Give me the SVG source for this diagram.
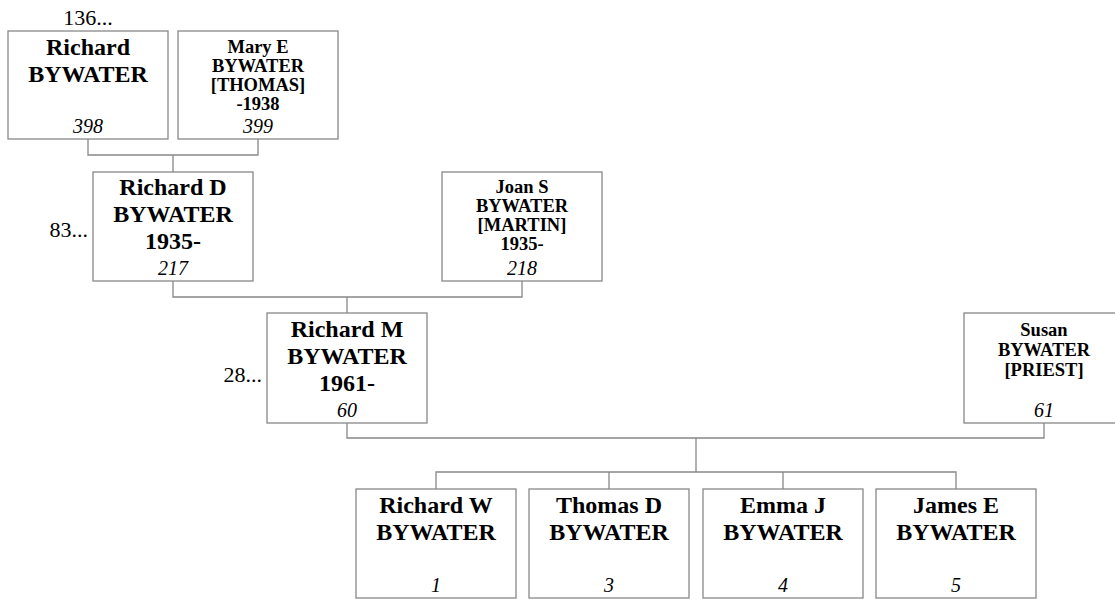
<svg xmlns="http://www.w3.org/2000/svg" width="1115" height="599" viewBox="0 0 1115 599" font-family="'Liberation Serif', Tinos, 'Times New Roman', 'DejaVu Serif', serif">
<style>
rect.b{fill:#fff;stroke:#888;stroke-width:1.3}
.c path{fill:none;stroke:#888;stroke-width:1.3}
text{font-family:'Liberation Serif',Tinos,'Times New Roman','DejaVu Serif',serif;fill:#000;text-anchor:middle}
.n{font-weight:bold;font-size:24px}
.s{font-weight:bold;font-size:18.5px}
.i{font-style:italic;font-size:20px}
.l{font-size:22px}
</style>
<rect width="1115" height="599" fill="#fff"/>
<g class="c" id="connectors">
<path d="M88,139V155H258V139M173,155V172"/>
<path d="M173,281V297H522V281M347,297V313"/>
<path d="M347,423V438H1044V423M696,438V472"/>
<path d="M436,489V472H956V489M609,472V489M783,472V489"/>
</g>
<g id="n398">
<rect class="b" x="8" y="31" width="160" height="108"/>
<text class="n" x="88" y="55">Richard</text>
<text class="n" x="88" y="82">BYWATER</text>
<text class="i" x="88" y="133">398</text>
<text class="l" x="88" y="25">136...</text>
</g>
<g id="n399">
<rect class="b" x="178" y="31" width="160" height="108"/>
<text class="s" x="258" y="53">Mary E</text>
<text class="s" x="258" y="72">BYWATER</text>
<text class="s" x="258" y="91">[THOMAS]</text>
<text class="s" x="258" y="110">-1938</text>
<text class="i" x="258" y="133">399</text>
</g>
<g id="n217">
<rect class="b" x="93" y="172" width="160" height="109"/>
<text class="n" x="173" y="195">Richard D</text>
<text class="n" x="173" y="222">BYWATER</text>
<text class="n" x="173" y="249">1935-</text>
<text class="i" x="173" y="275">217</text>
<text class="l" x="88" y="237" style="text-anchor:end">83...</text>
</g>
<g id="n218">
<rect class="b" x="442" y="172" width="160" height="109"/>
<text class="s" x="522" y="193">Joan S</text>
<text class="s" x="522" y="212">BYWATER</text>
<text class="s" x="522" y="231">[MARTIN]</text>
<text class="s" x="522" y="250">1935-</text>
<text class="i" x="522" y="275">218</text>
</g>
<g id="n60">
<rect class="b" x="267" y="313" width="160" height="110"/>
<text class="n" x="347" y="337">Richard M</text>
<text class="n" x="347" y="364">BYWATER</text>
<text class="n" x="347" y="391">1961-</text>
<text class="i" x="347" y="417">60</text>
<text class="l" x="262" y="382" style="text-anchor:end">28...</text>
</g>
<g id="n61">
<rect class="b" x="964" y="313" width="160" height="110"/>
<text class="s" x="1044" y="336">Susan</text>
<text class="s" x="1044" y="356">BYWATER</text>
<text class="s" x="1044" y="376">[PRIEST]</text>
<text class="i" x="1044" y="417">61</text>
</g>
<g id="n1">
<rect class="b" x="356" y="489" width="160" height="109"/>
<text class="n" x="436" y="513">Richard W</text>
<text class="n" x="436" y="540">BYWATER</text>
<text class="i" x="436" y="592">1</text>
</g>
<g id="n3">
<rect class="b" x="529" y="489" width="160" height="109"/>
<text class="n" x="609" y="513">Thomas D</text>
<text class="n" x="609" y="540">BYWATER</text>
<text class="i" x="609" y="592">3</text>
</g>
<g id="n4">
<rect class="b" x="703" y="489" width="160" height="109"/>
<text class="n" x="783" y="513">Emma J</text>
<text class="n" x="783" y="540">BYWATER</text>
<text class="i" x="783" y="592">4</text>
</g>
<g id="n5">
<rect class="b" x="876" y="489" width="160" height="109"/>
<text class="n" x="956" y="513">James E</text>
<text class="n" x="956" y="540">BYWATER</text>
<text class="i" x="956" y="592">5</text>
</g>
</svg>
